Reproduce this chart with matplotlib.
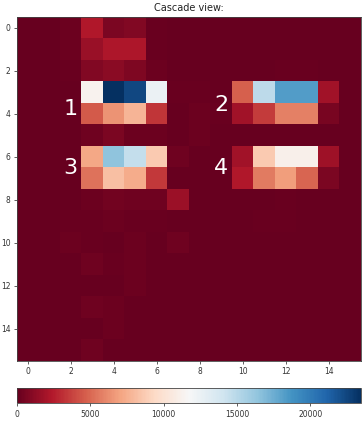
import numpy as np
import matplotlib
matplotlib.use('Agg')
from matplotlib import pyplot as plt

# --
# grid size and colour scale
nRows, nCols = 16, 16
cMin, cMax, cMap = [0., 23450., 'RdBu']
tick_size = 5.5
DPI = 100

# non-zero cells as (row, col, value); everything else is zero
cell_rows = [0, 0, 0, 0, 0,
             1, 1, 1, 1, 1,
             2, 2, 2, 2, 2, 2, 2,
             3, 3, 3, 3, 3, 3, 3, 3, 3, 3, 3,
             4, 4, 4, 4, 4, 4, 4, 4, 4, 4, 4,
             5, 5, 5, 5, 5,
             6, 6, 6, 6, 6, 6, 6, 6, 6, 6,
             7, 7, 7, 7, 7, 7, 7, 7, 7, 7,
             8, 8, 8, 8, 8, 8,
             9, 9, 9, 9, 9, 9, 9,
             10, 10, 10, 10,
             11, 11, 11,
             12,
             13, 13,
             14,
             15]
cell_cols = [2, 3, 4, 5, 6,
             2, 3, 4, 5, 6,
             2, 3, 4, 5, 6, 12, 13,
             3, 4, 5, 6, 7, 8, 10, 11, 12, 13, 14,
             3, 4, 5, 6, 8, 9, 10, 11, 12, 13, 14,
             3, 4, 5, 6, 8,
             3, 4, 5, 6, 7, 10, 11, 12, 13, 14,
             3, 4, 5, 6, 7, 10, 11, 12, 13, 14,
             3, 4, 5, 6, 7, 12,
             2, 3, 4, 5, 6, 11, 12,
             2, 3, 5, 7,
             3, 4, 5,
             5,
             3, 4,
             4,
             3]
cell_vals = [250, 2350, 700, 850, 150,
             250, 1600, 2200, 2200, 150,
             100, 900, 1100, 750, 200, 100, 100,
             11300, 23450, 22400, 12400, 150, 100, 4700, 14800, 18300, 18300, 1900,
             4500, 6500, 7700, 3300, 250, 150, 1900, 3500, 5800, 5800, 600,
             300, 700, 250, 200, 200,
             7200, 16400, 14500, 8700, 300, 1900, 8700, 11100, 11100, 1750,
             5400, 8200, 7400, 3400, 50, 2350, 5600, 6800, 4900, 700,
             200, 400, 300, 300, 1650, 150,
             100, 150, 200, 150, 100, 150, 100,
             200, 100, 250, 300,
             300, 150, 250,
             200,
             300, 200,
             200,
             350]

# block labels and where they sit
block_labels = ['1', '2', '3', '4']
block_x = [2, 9, 2, 9]
block_y = [3.8, 3.6, 6.5, 6.5]
# --

grid = np.zeros((nRows, nCols))
grid[cell_rows, cell_cols] = cell_vals

W, H = 364, 422
fig = plt.figure(figsize=(W / DPI, H / DPI), dpi=DPI)
ax = fig.add_axes([17 / W, 61 / H, 344 / W, 344 / H])
cax = fig.add_axes([17 / W, 18.7 / H, 344 / W, 15.6 / H])

im = ax.imshow(grid, cmap=cMap, vmin=cMin, vmax=cMax, aspect='auto')
ax.set_title('Cascade view:', fontsize=7, pad=4, color='#222222')
ax.set_xticks(np.arange(0, nCols, 2))
ax.set_yticks(np.arange(0, nRows, 2))
ax.tick_params(labelsize=tick_size, length=2.5, width=0.6, pad=2,
               labelcolor='#333333', color='#444444')
for s in ax.spines.values():
    s.set_linewidth(0.6)
    s.set_color('#444444')

for lab, x, y in zip(block_labels, block_x, block_y):
    ax.text(x, y, lab, color='white', fontsize=16, ha='center', va='center')

cb = plt.colorbar(im, cax=cax, orientation='horizontal',
                  ticks=[0, 5000, 10000, 15000, 20000])
cb.ax.tick_params(labelsize=tick_size, length=2.5, width=0.6, pad=2,
                  labelcolor='#333333', color='#444444')
cb.outline.set_linewidth(0.6)
cb.outline.set_edgecolor('#444444')

plt.savefig('out.png', dpi=DPI)
